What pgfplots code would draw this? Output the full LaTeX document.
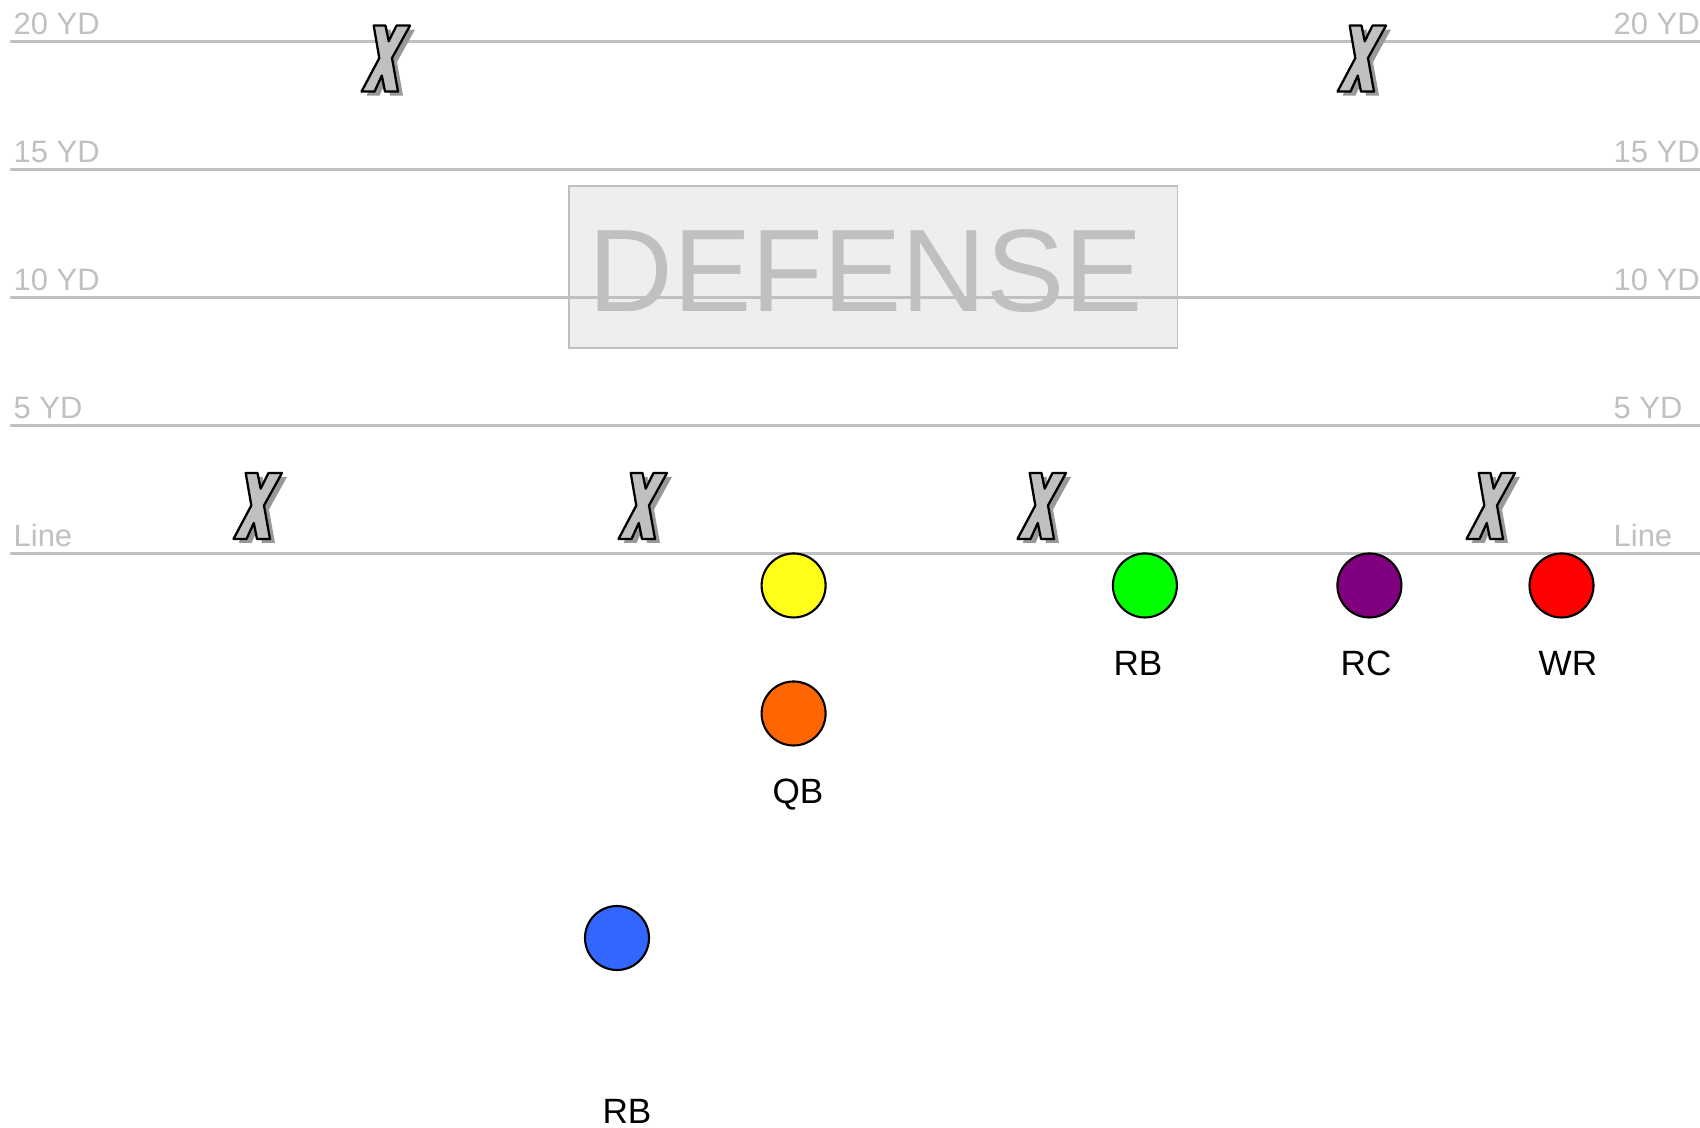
\documentclass[border=0pt]{standalone}
\usepackage{pgfplots}
\pgfplotsset{compat=1.18}
\usepackage{fontspec}
\setmainfont{Liberation Sans}
\definecolor{yardgray}{HTML}{C0C0C0}
\definecolor{boxfill}{HTML}{EEEEEE}
\definecolor{xgray}{HTML}{C0C0C0}
\definecolor{shadowgray}{HTML}{999999}
\definecolor{pyellow}{HTML}{FFFF1A}
\definecolor{porange}{HTML}{FF6600}
\definecolor{pgreen}{HTML}{00FF00}
\definecolor{ppurple}{HTML}{800080}
\definecolor{pred}{HTML}{FF0000}
\definecolor{pblue}{HTML}{3366FF}
\newcommand{\Xpath}[2]{%
\pgfpathmoveto{\pgfpoint{-1.13mm+#1}{3.3mm+#2}}%
\pgfpathlineto{\pgfpoint{0.05mm+#1}{3.3mm+#2}}%
\pgfpathlineto{\pgfpoint{0.37mm+#1}{1.73mm+#2}}%
\pgfpathlineto{\pgfpoint{1.15mm+#1}{3.3mm+#2}}%
\pgfpathlineto{\pgfpoint{2.5mm+#1}{3.3mm+#2}}%
\pgfpathlineto{\pgfpoint{0.7mm+#1}{0.05mm+#2}}%
\pgfpathlineto{\pgfpoint{1.3mm+#1}{-3.3mm+#2}}%
\pgfpathlineto{\pgfpoint{0.0mm+#1}{-3.3mm+#2}}%
\pgfpathlineto{\pgfpoint{-0.32mm+#1}{-1.7mm+#2}}%
\pgfpathlineto{\pgfpoint{-1.05mm+#1}{-3.3mm+#2}}%
\pgfpathlineto{\pgfpoint{-2.35mm+#1}{-3.3mm+#2}}%
\pgfpathlineto{\pgfpoint{-0.57mm+#1}{0.05mm+#2}}%
\pgfpathclose}
\pgfdeclareplotmark{defX}{%
  \pgfsetfillcolor{shadowgray}\Xpath{0.5mm}{-0.4mm}\pgfusepathqfill
  \pgfsetfillcolor{xgray}\pgfsetstrokecolor{black}\pgfsetlinewidth{0.65pt}%
  \pgfsetroundjoin
  \Xpath{0pt}{0pt}\pgfusepath{fill,stroke}}
\tikzset{yl/.style={text=yardgray, anchor=base west, inner sep=0pt, font=\fontsize{8.8}{10}\selectfont}}
\begin{document}
\begin{tikzpicture}
\begin{axis}[name=ax, at={(0,0)}, anchor=south west,
  scale only axis, width=17cm, height=11.28cm,
  xmin=0, xmax=1700, ymin=-22.42, ymax=21.64,
  axis lines=none, clip=false,
  every node/.style={font=\fontsize{8.8}{10}\selectfont}]
% defense box
\draw[yardgray, line width=0.5pt, fill=boxfill] (axis cs:569,8.05) rectangle (axis cs:1177.5,14.36);
% yard lines
\addplot[yardgray, line width=0.85pt] coordinates {(10,20) (1700,20)};
\addplot[yardgray, line width=0.85pt] coordinates {(10,15) (1700,15)};
\addplot[yardgray, line width=0.85pt] coordinates {(10,10) (1700,10)};
\addplot[yardgray, line width=0.85pt] coordinates {(10,5) (1700,5)};
\addplot[yardgray, line width=0.85pt] coordinates {(10,0) (1700,0)};
\node[text=yardgray, font=\fontsize{33.4}{36}\selectfont, inner sep=0pt] at (axis cs:866,11.05) {DEFENSE};
% yard labels
\node[yl] at (axis cs:13,20.3) {20 YD};
\node[yl] at (axis cs:1613,20.3) {20 YD};
\node[yl] at (axis cs:13,15.3) {15 YD};
\node[yl] at (axis cs:1613,15.3) {15 YD};
\node[yl] at (axis cs:13,10.3) {10 YD};
\node[yl] at (axis cs:1613,10.3) {10 YD};
\node[yl] at (axis cs:13,5.3) {5 YD};
\node[yl] at (axis cs:1613,5.3) {5 YD};
\node[yl] at (axis cs:13,0.3) {Line};
\node[yl] at (axis cs:1613,0.3) {Line};
% defenders
\addplot[only marks, mark=defX] coordinates {(385,19.35) (1361,19.35)};
\addplot[only marks, mark=defX] coordinates {(257,1.875) (642,1.875) (1041,1.875) (1490,1.875)};
% offense
\addplot[only marks, mark=*, mark size=3.2mm, mark options={draw=black, fill=pyellow, line width=0.6pt}] coordinates {(793.6,-1.23)};
\addplot[only marks, mark=*, mark size=3.2mm, mark options={draw=black, fill=porange, line width=0.6pt}] coordinates {(793.6,-6.23)};
\addplot[only marks, mark=*, mark size=3.2mm, mark options={draw=black, fill=pgreen, line width=0.6pt}] coordinates {(1144.9,-1.23)};
\addplot[only marks, mark=*, mark size=3.2mm, mark options={draw=black, fill=ppurple, line width=0.6pt}] coordinates {(1369.4,-1.23)};
\addplot[only marks, mark=*, mark size=3.2mm, mark options={draw=black, fill=pred, line width=0.6pt}] coordinates {(1561.5,-1.23)};
\addplot[only marks, mark=*, mark size=3.2mm, mark options={draw=black, fill=pblue, line width=0.6pt}] coordinates {(617,-15.0)};
% labels
\node[inner sep=0pt] at (axis cs:1138,-4.28) {RB};
\node[inner sep=0pt] at (axis cs:1366,-4.28) {RC};
\node[inner sep=0pt] at (axis cs:1568,-4.28) {WR};
\node[inner sep=0pt] at (axis cs:798,-9.40) {QB};
\node[inner sep=0pt] at (axis cs:627,-21.76) {RB};
\end{axis}
\pgfresetboundingbox
\useasboundingbox (ax.south west) rectangle (ax.north east);
\end{tikzpicture}
\end{document}
